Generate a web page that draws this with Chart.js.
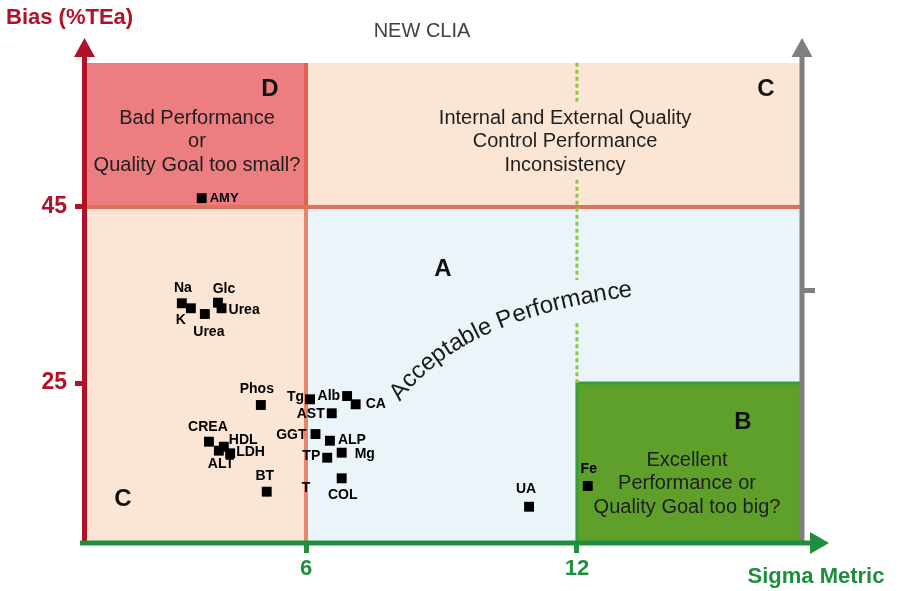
<!DOCTYPE html>
<html><head><meta charset="utf-8">
<script src="https://cdn.jsdelivr.net/npm/chart.js@4.4.0/dist/chart.umd.min.js"></script>
<style>html,body{margin:0;padding:0;background:#fff;overflow:hidden}#wrap{width:921px;height:591px;}</style>
</head><body><div id="wrap"><canvas id="c" width="921" height="591"></canvas></div>
<script>
// ---- data ----
const analytes   = ['AMY','Na','K','Urea','Glc','Urea','Phos','CREA','HDL','ALT','LDH','BT','Tg','Alb','CA','AST','GGT','ALP','Mg','TP','COL','UA','Fe'];
const sigmaValues= [3.69,3.25,3.45,3.76,4.05,4.13,5.00,3.85,4.18,4.07,4.32,5.13,6.09,6.91,7.10,6.57,6.21,6.53,6.79,6.47,6.79,10.94,12.24];
const biasValues = [46.0,34.06,33.49,32.84,34.13,33.49,22.5,18.33,17.76,17.31,17.01,12.65,23.15,23.52,22.58,21.56,19.2,18.44,17.08,16.51,14.17,10.94,13.3];
const unmarkedAnalytes = ['T'];
const unmarkedSigma = [6.0];
const unmarkedBias  = [11.5];
const xTickValues = [6, 12];
const yTickValues = [25, 45];
const sigmaLimits = [6, 12];
const biasLimits  = [25, 45];
const xRange = [1.15, 16.94];
const yRange = [6.82, 61.36];

// label placement (dx, dy, align) for each analyte label
const labelPlace = [[8,0,'left'],[1,-15,'center'],[-10,12,'center'],[4,18,'center'],[6,-14,'center'],[7,2,'left'],
 [-4,-16,'center'],[-1,-15,'center'],[5,-7,'left'],[2,13,'center'],[6,-1,'left'],[-2,-16,'center'],
 [-6,-2,'right'],[-7,0,'right'],[10,0,'left'],[-7,1,'right'],[-9,1,'right'],[8,-1,'left'],[13,1,'left'],
 [-7,-2,'right'],[1,17,'center'],[-3,-18,'center'],[1,-17,'center']];

const FF = 'Arial, "Liberation Sans", sans-serif';
const RED = '#B0122A', GREEN = '#1F8F3F', GRAY = '#7F7F7F';

function drawCurvedText(ctx, text, p0, p1, p2){
  const N = 400, pts = [];
  let len = 0, px = p0[0], py = p0[1];
  for (let i=0;i<=N;i++){
    const t=i/N, u=1-t;
    const x=u*u*p0[0]+2*u*t*p1[0]+t*t*p2[0];
    const y=u*u*p0[1]+2*u*t*p1[1]+t*t*p2[1];
    if(i>0) len += Math.hypot(x-px,y-py);
    const dx=2*u*(p1[0]-p0[0])+2*t*(p2[0]-p1[0]);
    const dy=2*u*(p1[1]-p0[1])+2*t*(p2[1]-p1[1]);
    pts.push({len,x,y,a:Math.atan2(dy,dx)}); px=x; py=y;
  }
  const total = ctx.measureText(text).width;
  let s = (len-total)/2;
  for (const ch of text){
    const w = ctx.measureText(ch).width;
    const m = s + w/2;
    let k = pts.findIndex(p=>p.len>=m); if(k<0) k=pts.length-1;
    const p = pts[k];
    ctx.save(); ctx.translate(p.x,p.y); ctx.rotate(p.a);
    ctx.textAlign='left'; ctx.textBaseline='alphabetic';
    ctx.fillText(ch,-w/2,0); ctx.restore();
    s += w;
  }
}

const decor = {
  id:'decor',
  beforeDatasetsDraw(chart){
    const {ctx, chartArea:a, scales:{x,y}} = chart;
    const x6=x.getPixelForValue(sigmaLimits[0]), x12=x.getPixelForValue(sigmaLimits[1]);
    const y45=y.getPixelForValue(biasLimits[1]), y25=y.getPixelForValue(biasLimits[0]);
    ctx.save();
    ctx.fillStyle='#EBF4F9'; ctx.fillRect(x6,y45,a.right-x6,a.bottom-y45);
    ctx.fillStyle='#FBE6D6'; ctx.fillRect(x6,a.top,a.right-x6,y45-a.top);
    ctx.fillRect(a.left,y45,x6-a.left,a.bottom-y45);
    ctx.fillStyle='#EC7E82'; ctx.fillRect(a.left,a.top,x6-a.left,y45-a.top);
    ctx.fillStyle='#5FA02A'; ctx.fillRect(x12,y25,a.right-x12,a.bottom-y25);
    ctx.strokeStyle='#33A03C'; ctx.lineWidth=3;
    ctx.beginPath(); ctx.moveTo(x12,a.bottom); ctx.lineTo(x12,y25); ctx.lineTo(a.right,y25); ctx.stroke();
    // boundary lines
    ctx.lineWidth=4;
    ctx.strokeStyle='#E5604F'; ctx.beginPath(); ctx.moveTo(x6,a.top); ctx.lineTo(x6,y45); ctx.stroke();
    ctx.strokeStyle='#E8866C'; ctx.beginPath(); ctx.moveTo(x6,y45); ctx.lineTo(x6,a.bottom); ctx.stroke();
    ctx.strokeStyle='#E5705C'; ctx.lineWidth=4; ctx.beginPath(); ctx.moveTo(a.left,y45); ctx.lineTo(a.right,y45); ctx.stroke();
    // dotted line at 12
    ctx.strokeStyle='#8DC63F'; ctx.lineWidth=3; ctx.setLineDash([4,3]);
    [[61.4,56.9],[48.1,36.7],[31.8,25]].forEach(([b0,b1])=>{
      ctx.beginPath(); ctx.moveTo(x12,y.getPixelForValue(b0)); ctx.lineTo(x12,y.getPixelForValue(b1)); ctx.stroke();
    });
    ctx.setLineDash([]);
    // zone texts
    ctx.fillStyle='#1E1E1E'; ctx.textAlign='center'; ctx.textBaseline='middle';
    ctx.font='20px '+FF;
    ['Bad Performance','or','Quality Goal too small?'].forEach((t,i)=>ctx.fillText(t,197,118+i*23.5));
    ['Internal and External Quality','Control Performance','Inconsistency'].forEach((t,i)=>ctx.fillText(t,565,118+i*23.5));
    ['Excellent','Performance or','Quality Goal too big?'].forEach((t,i)=>ctx.fillText(t,687,460+i*23.5));
    ctx.fillStyle='#111'; ctx.font='bold 24px '+FF;
    ctx.fillText('D',270,89); ctx.fillText('C',766,89); ctx.fillText('A',443,269);
    ctx.fillText('B',743,422); ctx.fillText('C',123,499);
    ctx.fillStyle='#1A1A1A'; ctx.font='24px '+FF;
    drawCurvedText(ctx,'Acceptable Performance',[399,403],[460,318],[634,296]);
    ctx.restore();
  },
  afterDatasetsDraw(chart){
    const {ctx, chartArea:a, scales:{x,y}} = chart;
    ctx.save();
    // point labels
    ctx.fillStyle='#000'; ctx.textBaseline='middle';
    const ds0 = chart.getDatasetMeta(0).data;
    ds0.forEach((el,i)=>{
      const [dx,dy,al]=labelPlace[i];
      ctx.font='bold '+(analytes[i]==='AMY'?13:14)+'px '+FF;
      ctx.textAlign=al; ctx.fillText(analytes[i], el.x+dx, el.y+dy);
    });
    const ds1 = chart.getDatasetMeta(1).data;
    ds1.forEach((el,i)=>{ ctx.font='bold 14px '+FF; ctx.textAlign='center'; ctx.fillText(unmarkedAnalytes[i], el.x, el.y-14); });
    // y axis (red)
    ctx.fillStyle=RED; ctx.fillRect(82,a.top-8,5,a.bottom-a.top+10);
    ctx.beginPath(); ctx.moveTo(84.5,38); ctx.lineTo(74,57); ctx.lineTo(95,57); ctx.closePath(); ctx.fill();
    // right gray axis
    ctx.fillStyle=GRAY; ctx.fillRect(a.right-0.5,a.top-8,5,a.bottom-a.top+10);
    ctx.beginPath(); ctx.moveTo(a.right+2,38); ctx.lineTo(a.right-8.5,57); ctx.lineTo(a.right+12.5,57); ctx.closePath(); ctx.fill();
    ctx.fillRect(a.right+2,288,13,5);
    // x axis (green)
    ctx.fillStyle=GREEN; ctx.fillRect(80,a.bottom-2.5,732,5);
    ctx.beginPath(); ctx.moveTo(829,a.bottom); ctx.lineTo(810,a.bottom-11); ctx.lineTo(810,a.bottom+11); ctx.closePath(); ctx.fill();
    // titles
    ctx.textBaseline='middle';
    ctx.fillStyle='#404040'; ctx.font='20px '+FF; ctx.textAlign='center'; ctx.fillText('NEW CLIA',422,31);
    ctx.fillStyle=RED; ctx.font='bold 22px '+FF; ctx.textAlign='left'; ctx.fillText('Bias (%TEa)',6,18);
    ctx.fillStyle=GREEN; ctx.textAlign='center'; ctx.fillText('Sigma Metric',816,577);
    ctx.restore();
  }
};

new Chart(document.getElementById('c'), {
  type:'scatter',
  data:{datasets:[
    {data: sigmaValues.map((v,i)=>({x:v,y:biasValues[i]})), pointStyle:'rect', pointRadius:7, pointHoverRadius:7,
     backgroundColor:'#000', borderColor:'#000', borderWidth:0},
    {data: unmarkedSigma.map((v,i)=>({x:v,y:unmarkedBias[i]})), pointRadius:0, pointHoverRadius:0}
  ]},
  plugins:[decor],
  options:{
    responsive:false, animation:false, devicePixelRatio:1,
    layout:{padding:{top:63,right:121,bottom:0,left:0}},
    plugins:{legend:{display:false},tooltip:{enabled:false},title:{display:false}},
    events:[],
    scales:{
      x:{type:'linear', min:xRange[0], max:xRange[1],
         afterBuildTicks:s=>{s.ticks=xTickValues.map(v=>({value:v}));},
         afterFit:s=>{s.height=48;},
         border:{display:false},
         grid:{drawOnChartArea:false, drawTicks:true, tickLength:10, color:GREEN, lineWidth:5},
         ticks:{color:GREEN, font:{family:FF, size:22, weight:'bold'}, padding:3, maxRotation:0, autoSkip:false}},
      y:{type:'linear', min:yRange[0], max:yRange[1],
         afterBuildTicks:s=>{s.ticks=yTickValues.map(v=>({value:v}));},
         afterFit:s=>{s.width=87;},
         border:{display:false},
         grid:{drawOnChartArea:false, drawTicks:true, tickLength:12, color:RED, lineWidth:5},
         ticks:{color:RED, font:{family:FF, size:23, weight:'bold'}, padding:8, autoSkip:false}}
    }
  }
});
</script></body></html>
